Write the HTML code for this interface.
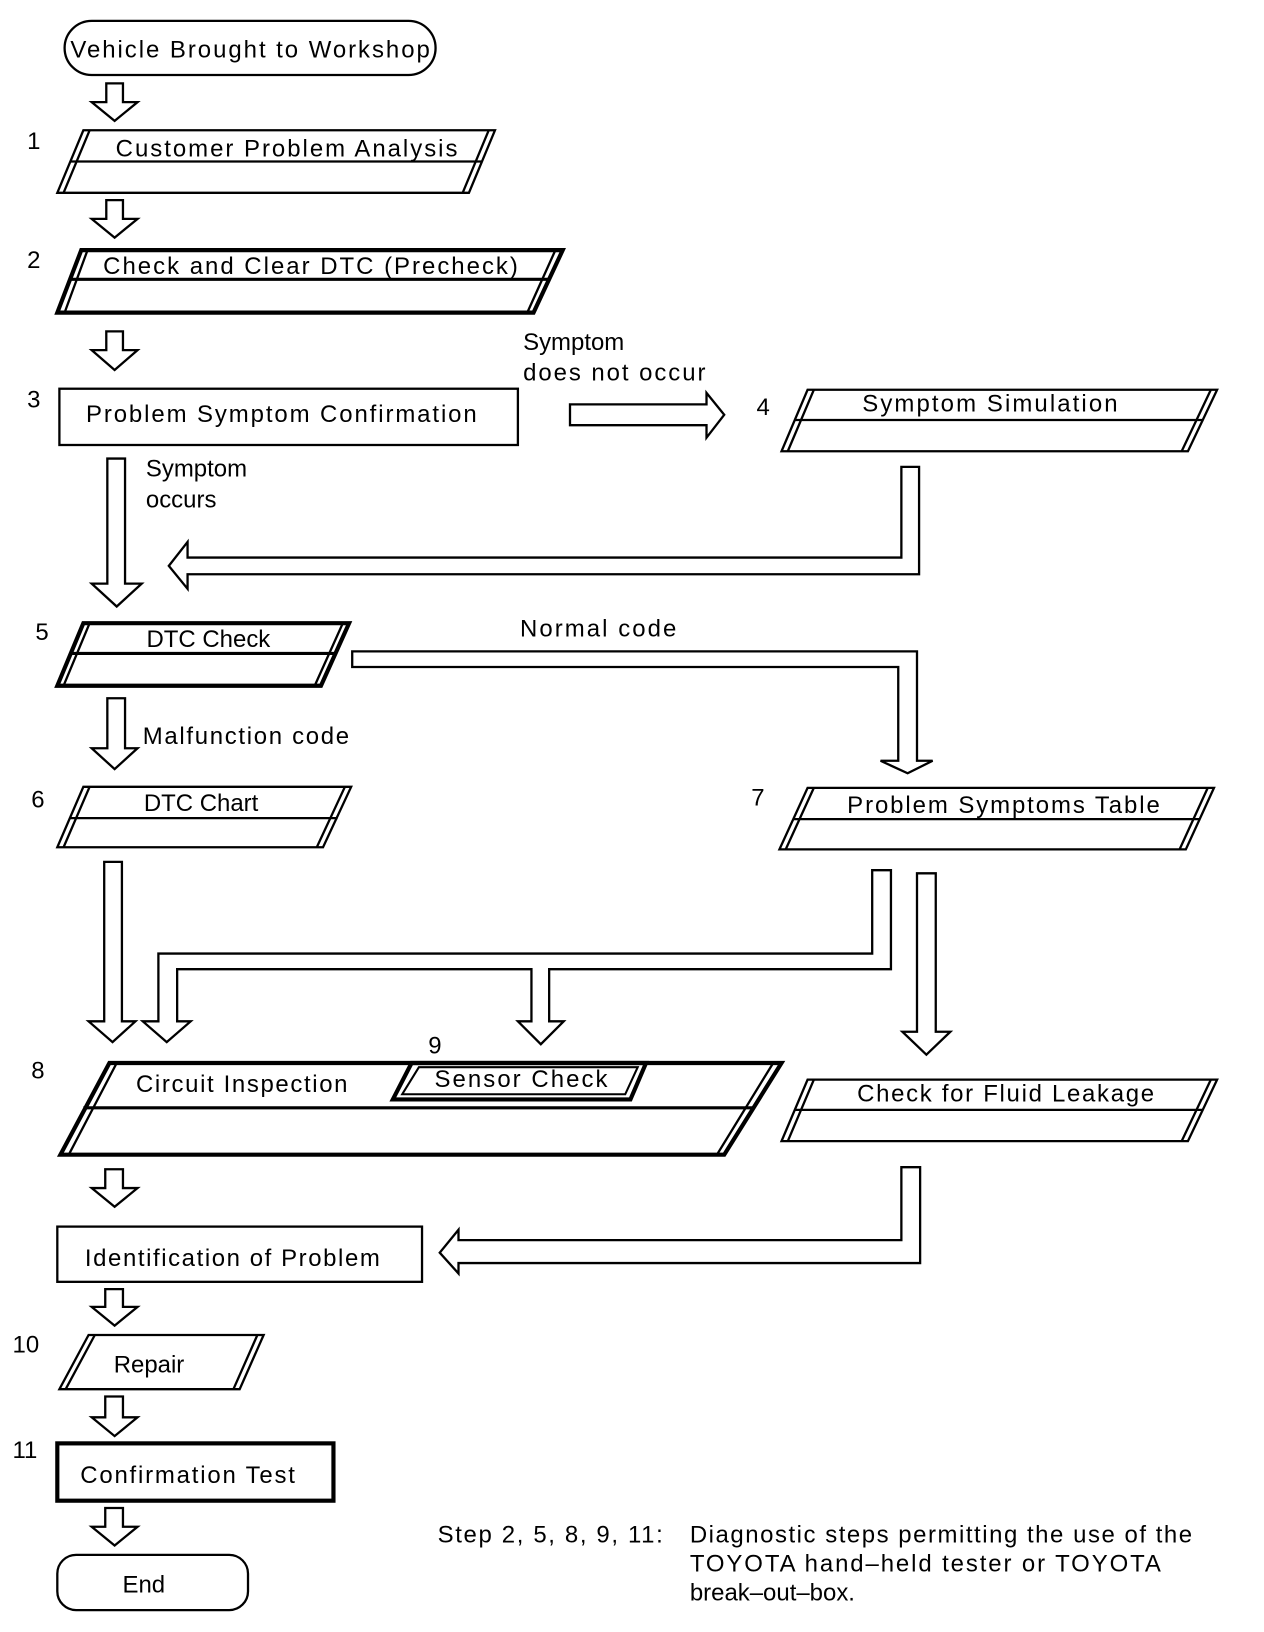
<!DOCTYPE html>
<html><head><meta charset="utf-8"><style>
html,body{margin:0;padding:0;background:#fff;}
svg{display:block;}
text{font-family:"Liberation Sans",sans-serif;fill:#000;}
</style></head><body>
<svg width="1264" height="1632" viewBox="0 0 1213 1566" preserveAspectRatio="none" xmlns="http://www.w3.org/2000/svg">
<g fill="none" stroke="#000" stroke-width="2.2" stroke-linejoin="miter">
<!-- start -->
<rect x="62" y="20" width="356" height="52" rx="26"/>
<!-- arrows down small -->
<path d="M102 80H118V98H132L110 116L88 98H102Z"/>
<path d="M102 192H118V210H132L110 228L88 210H102Z"/>
<path d="M102 318H118V336H132L110 355L88 336H102Z"/>
<!-- 1 -->
<path d="M80 125H475L450 185H55Z"/><path d="M86 125L61 185M469 125L444 185"/><path d="M68 155H462"/>
<!-- 2 -->
<path d="M78 240H540L512 300H55Z" stroke-width="4"/><path d="M84 240L62 300M533 240L506 300"/><path d="M66 268H527" stroke-width="3"/>
<!-- 3 -->
<rect x="57" y="373" width="440" height="54"/>
<!-- right arrow 3->4 -->
<path d="M547 388H678V377L695 398L678 420V408H547Z"/>
<!-- 4 -->
<path d="M775 374H1168L1140 433H750Z"/><path d="M781 374L756 433M1162 374L1134 433"/><path d="M763 403H1155"/>
<!-- long down from 3 -->
<path d="M103 440H120V560H136L112 582L88 560H103Z"/>
<!-- return from 4 -->
<path d="M865 448H882V551H180V565L162 543L180 520V535H865Z"/>
<!-- 5 -->
<path d="M80 598H335L308 658H55Z" stroke-width="4"/><path d="M86 598L61 658M329 598L302 658"/><path d="M67 627H322" stroke-width="3"/>
<!-- normal code pipe -->
<path d="M338 625H880V730H895L871 742L845 730H862V640H338Z"/>
<!-- down from 5 -->
<path d="M103 670H120V718H132L110 738L88 718H103Z"/>
<!-- 6 -->
<path d="M80 755H337L310 813H55Z"/><path d="M86 755L61 813M331 755L304 813"/><path d="M67 785H324"/>
<!-- 7 -->
<path d="M775 756H1165L1138 815H748Z"/><path d="M781 756L754 815M1159 756L1132 815"/><path d="M761 786H1152"/>
<!-- from 6 -->
<path d="M100 827H117V980H130L108 1000L85 980H100Z"/>
<!-- pipe from 7 -->
<path d="M837 835H855V930H527V980H541L519 1002L497 980H510V930H170V980H183L160 1000L137 980H152V915H837Z"/>
<!-- second from 7 -->
<path d="M880 838H898V990H912L889 1012L866 990H880Z"/>
<!-- 8 -->
<path d="M105 1020H750L695 1108H58Z" stroke-width="4"/><path d="M112 1020L66 1108M742 1020L688 1108"/>
<path d="M80 1063H722" stroke-width="3"/>
<path d="M395 1020H620L605 1055H377Z" stroke-width="4"/><path d="M402 1024H612L600 1050H386Z" stroke-width="2"/>
<!-- fluid -->
<path d="M775 1036H1168L1140 1095H750Z"/><path d="M781 1036L756 1095M1162 1036L1134 1095"/><path d="M763 1065H1155"/>
<!-- down from 8 -->
<path d="M101 1122H118V1140H132L110 1158L88 1140H101Z"/>
<!-- identification -->
<rect x="55" y="1177" width="350" height="53"/>
<!-- from fluid -->
<path d="M865 1120H883V1212H440V1222L422 1202L440 1180V1190H865Z"/>
<path d="M101 1237H118V1254H132L110 1272L88 1254H101Z"/>
<!-- 10 -->
<path d="M85 1281H253L230 1333H57Z"/><path d="M91 1281L63 1333M247 1281L224 1333"/>
<path d="M101 1340H118V1360H132L110 1378L88 1360H101Z"/>
<!-- 11 -->
<rect x="55" y="1385" width="265" height="55" stroke-width="4"/>
<path d="M101 1447H118V1465H132L110 1483L88 1465H101Z"/>
<rect x="55" y="1492" width="183" height="53" rx="18"/>
</g>
<g font-size="23">
<text x="240" y="55" text-anchor="middle" textLength="345">Vehicle Brought to Workshop</text>
<text x="26" y="143">1</text>
<text x="275" y="150" text-anchor="middle" textLength="328">Customer Problem Analysis</text>
<text x="26" y="257">2</text>
<text x="298" y="263" text-anchor="middle" textLength="398">Check and Clear DTC (Precheck)</text>
<text x="26" y="391">3</text>
<text x="270" y="405" text-anchor="middle" textLength="375">Problem Symptom Confirmation</text>
<text x="502" y="336">Symptom</text>
<text x="502" y="365" textLength="175">does not occur</text>
<text x="726" y="398">4</text>
<text x="950" y="395" text-anchor="middle" textLength="245">Symptom Simulation</text>
<text x="140" y="457">Symptom</text>
<text x="140" y="487">occurs</text>
<text x="34" y="614">5</text>
<text x="200" y="621" text-anchor="middle">DTC Check</text>
<text x="499" y="611" textLength="150">Normal code</text>
<text x="137" y="714" textLength="198">Malfunction code</text>
<text x="30" y="775">6</text>
<text x="193" y="778" text-anchor="middle">DTC Chart</text>
<text x="721" y="773">7</text>
<text x="963" y="780" text-anchor="middle" textLength="300">Problem Symptoms Table</text>
<text x="30" y="1035">8</text>
<text x="232" y="1048" text-anchor="middle" textLength="203">Circuit Inspection</text>
<text x="411" y="1011">9</text>
<text x="500" y="1043" text-anchor="middle" textLength="166">Sensor Check</text>
<text x="965" y="1057" text-anchor="middle" textLength="285">Check for Fluid Leakage</text>
<text x="223" y="1215" text-anchor="middle" textLength="283">Identification of Problem</text>
<text x="12" y="1298">10</text>
<text x="143" y="1317" text-anchor="middle">Repair</text>
<text x="12" y="1399">11</text>
<text x="180" y="1423" text-anchor="middle" textLength="206">Confirmation Test</text>
<text x="138" y="1528" text-anchor="middle">End</text>
<text x="420" y="1480" textLength="216">Step 2, 5, 8, 9, 11:</text>
<text x="662" y="1480" textLength="482">Diagnostic steps permitting the use of the</text>
<text x="662" y="1508" textLength="452">TOYOTA hand–held tester or TOYOTA</text>
<text x="662" y="1536">break–out–box.</text>
</g>
</svg>
</body></html>
